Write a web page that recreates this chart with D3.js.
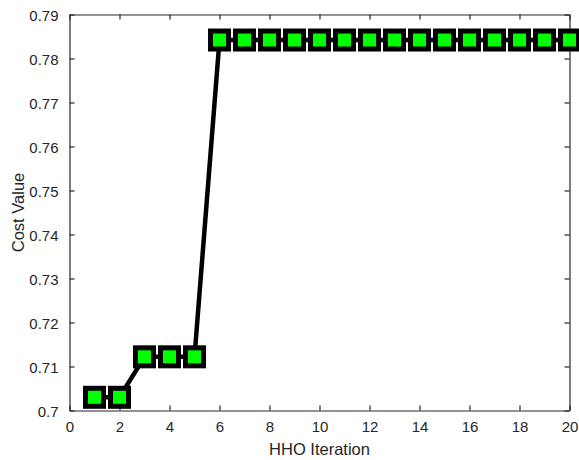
<!DOCTYPE html>
<html><head><meta charset="utf-8">
<script src="https://cdn.jsdelivr.net/npm/d3@7"></script>
<style>body{margin:0;background:#fff}svg{display:block}text{font-family:"Liberation Sans",Arial,sans-serif}</style>
</head><body><svg id="c" width="579" height="460"></svg>
<script>
const iterations = [1,2,3,4,5,6,7,8,9,10,11,12,13,14,15,16,17,18,19,20];
const costValues = [0.703,0.703,0.7122,0.7122,0.7122,0.7842,0.7842,0.7842,0.7842,0.7842,0.7842,0.7842,0.7842,0.7842,0.7842,0.7842,0.7842,0.7842,0.7842,0.7842];
const xTicks = [0,2,4,6,8,10,12,14,16,18,20];
const yTicks = [0.7,0.71,0.72,0.73,0.74,0.75,0.76,0.77,0.78,0.79];

const svg = d3.select('#c');
const L=69.5, R=569.5, T=14.5, B=410.5;
const x = d3.scaleLinear().domain([0,20]).range([L,R]);
const y = d3.scaleLinear().domain([0.7,0.79]).range([B,T]);
const col='#262626';

const g = svg.append('g');
const xb = g.append('g').attr('transform',`translate(0,${B})`).call(d3.axisBottom(x).tickValues(xTicks).tickSizeInner(-5).tickSizeOuter(0).tickPadding(11).tickFormat(d3.format('d')));
const xt = g.append('g').attr('transform',`translate(0,${T})`).call(d3.axisTop(x).tickValues(xTicks).tickSizeInner(-5).tickSizeOuter(0).tickFormat(''));
const yl = g.append('g').attr('transform',`translate(${L},0)`).call(d3.axisLeft(y).tickValues(yTicks).tickSizeInner(-5).tickSizeOuter(0).tickPadding(11).tickFormat(d=>d3.format('.2~f')(d)));
const yr = g.append('g').attr('transform',`translate(${R},0)`).call(d3.axisRight(y).tickValues(yTicks).tickSizeInner(-5).tickSizeOuter(0).tickFormat(''));
[xb,xt,yl,yr].forEach(a=>{a.selectAll('path,line').attr('stroke',col).attr('stroke-width',1.2);a.selectAll('text').attr('fill',col).attr('font-size',15).attr('font-family','"Liberation Sans",Arial,sans-serif');});
xb.selectAll('text').attr('dy','0.71em');
yl.selectAll('text').attr('dy','0.42em');

const data = iterations.map((d,i)=>({x:d,y:costValues[i]}));
g.append('path').datum(data).attr('fill','none').attr('stroke','#000').attr('stroke-width',4.5).attr('stroke-linejoin','round')
 .attr('d',d3.line().x(d=>x(d.x)).y(d=>y(d.y)));
const s=18;
g.selectAll('rect.m').data(data).enter().append('rect').attr('class','m')
 .attr('x',d=>x(d.x)-s/2).attr('y',d=>y(d.y)-s/2).attr('width',s).attr('height',s)
 .attr('fill','#00ff00').attr('stroke','#000').attr('stroke-width',5);

svg.append('text').attr('x',(L+R)/2).attr('y',455).attr('text-anchor','middle').attr('font-size',16.5).attr('fill',col).text('HHO Iteration');
svg.append('text').attr('transform',`translate(24,${(T+B)/2}) rotate(-90)`).attr('text-anchor','middle').attr('font-size',16.5).attr('fill',col).text('Cost Value');
</script></body></html>
